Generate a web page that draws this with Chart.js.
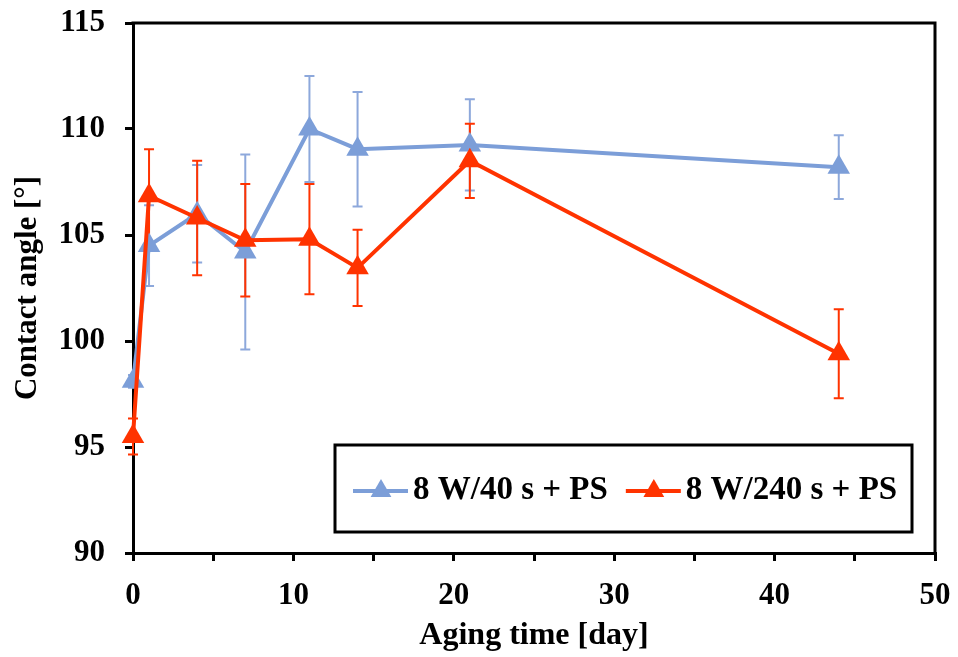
<!DOCTYPE html>
<html><head><meta charset="utf-8">
<script src="https://cdn.jsdelivr.net/npm/chart.js@4.4.1/dist/chart.umd.min.js"></script>
<style>html,body{margin:0;padding:0;background:#fff;}</style>
</head><body>
<canvas id="c" width="958" height="657"></canvas>
<script>
const days = [0, 1, 4, 7, 11, 14, 21, 44];
const blueAngle = [98.1, 104.5, 106.0, 104.2, 110.0, 109.05, 109.25, 108.2];
const blueErr   = [0.3, 1.9, 2.3, 4.6, 2.5, 2.7, 2.15, 1.5];
const redAngle  = [95.5, 106.85, 105.8, 104.75, 104.8, 103.45, 108.5, 99.4];
const redErr    = [0.85, 2.2, 2.7, 2.65, 2.6, 1.8, 1.75, 2.1];
const seriesLabels = ['8 W/40 s + PS', '8 W/240 s + PS'];
const xTitle = 'Aging time [day]';
const yTitle = 'Contact angle [\u00B0]';

const FONT = "'Liberation Serif','Times New Roman',serif";
const BLUE = '#7C9ED8', BLUE_ERR = '#8DA8DB', RED = '#FF3300';

const errorBars = {
  id: 'errorBars',
  beforeDatasetsDraw(chart) {
    const {ctx, scales: {x, y}} = chart;
    chart.data.datasets.forEach(ds => {
      ctx.save();
      ctx.strokeStyle = ds.errColor;
      ctx.lineWidth = 2;
      ds.data.forEach((p, i) => {
        const px = x.getPixelForValue(p.x);
        const t = y.getPixelForValue(p.y + ds.err[i]);
        const b = y.getPixelForValue(p.y - ds.err[i]);
        ctx.beginPath();
        ctx.moveTo(px, t); ctx.lineTo(px, b);
        ctx.moveTo(px - 5, t); ctx.lineTo(px + 5, t);
        ctx.moveTo(px - 5, b); ctx.lineTo(px + 5, b);
        ctx.stroke();
      });
      ctx.restore();
    });
  }
};

function tri(ctx, cx, cy, r, color) {
  ctx.beginPath();
  for (let k = 0; k < 3; k++) {
    const a = k * 2 * Math.PI / 3;
    const px = cx + Math.sin(a) * r, py = cy - Math.cos(a) * r;
    if (k === 0) ctx.moveTo(px, py); else ctx.lineTo(px, py);
  }
  ctx.closePath();
  ctx.fillStyle = color; ctx.fill();
}

const frameAndLegend = {
  id: 'frameAndLegend',
  afterDraw(chart) {
    const {ctx, chartArea: a} = chart;
    ctx.save();
    ctx.strokeStyle = '#000';
    ctx.lineWidth = 3;
    ctx.beginPath();
    ctx.moveTo(a.left - 1.5, a.top); ctx.lineTo(a.right, a.top); ctx.lineTo(a.right, a.bottom + 1.5);
    ctx.stroke();

    // legend box
    const bx = a.left + 202, by = a.top + 422, bw = 577, bh = 87;
    ctx.fillStyle = '#fff';
    ctx.fillRect(bx, by, bw, bh);
    ctx.strokeRect(bx, by, bw, bh);
    ctx.font = 'bold 33px ' + FONT;
    ctx.textBaseline = 'middle';
    ctx.textAlign = 'left';
    let cx = bx + 18;
    const cy = by + 46;
    chart.data.datasets.forEach(ds => {
      ctx.strokeStyle = ds.borderColor;
      ctx.lineWidth = 4;
      ctx.beginPath(); ctx.moveTo(cx, cy); ctx.lineTo(cx + 55, cy); ctx.stroke();
      tri(ctx, cx + 28, cy, 12, ds.borderColor);
      ctx.fillStyle = '#000';
      ctx.fillText(ds.label, cx + 60, cy - 1);
      cx += 60 + ctx.measureText(ds.label).width + 18;
    });
    ctx.restore();
  }
};

const mk = (vals) => days.map((d, i) => ({x: d, y: vals[i]}));

new Chart(document.getElementById('c'), {
  type: 'line',
  data: {
    datasets: [
      {label: seriesLabels[0], data: mk(blueAngle), err: blueErr, errColor: BLUE_ERR,
       borderColor: BLUE, backgroundColor: BLUE, borderWidth: 4, pointStyle: 'triangle',
       pointRadius: 13, pointHoverRadius: 13, pointBorderWidth: 0, tension: 0, order: 1, clip: false},
      {label: seriesLabels[1], data: mk(redAngle), err: redErr, errColor: RED,
       borderColor: RED, backgroundColor: RED, borderWidth: 4, pointStyle: 'triangle',
       pointRadius: 13, pointHoverRadius: 13, pointBorderWidth: 0, tension: 0, order: 0, clip: false}
    ]
  },
  options: {
    responsive: false,
    animation: false,
    devicePixelRatio: 1,
    layout: {padding: {top: 23, right: 23, left: 0, bottom: 0}},
    plugins: {legend: {display: false}, tooltip: {enabled: false}},
    scales: {
      x: {
        type: 'linear', min: 0, max: 50,
        afterFit(s) { s.height = 104; s.paddingLeft = 0; s.paddingRight = 0; },
        border: {display: true, color: '#000', width: 3},
        grid: {display: true, drawOnChartArea: false, drawTicks: true, tickLength: 8, color: '#000', lineWidth: 3},
        ticks: {stepSize: 5, color: '#000', padding: 16, maxRotation: 0,
          font: {family: FONT, size: 31, weight: 'bold'},
          callback: v => (v % 10 === 0 ? String(v) : '')},
        title: {display: true, text: xTitle, color: '#000', padding: {top: 0, bottom: 2},
          font: {family: FONT, size: 32, weight: 'bold'}}
      },
      y: {
        min: 90, max: 115,
        afterFit(s) { s.width = 133; s.paddingTop = 0; s.paddingBottom = 0; },
        border: {display: true, color: '#000', width: 3},
        grid: {display: true, drawOnChartArea: false, drawTicks: true, tickLength: 8, color: '#000', lineWidth: 3},
        ticks: {stepSize: 5, color: '#000', padding: 20,
          font: {family: FONT, size: 31, weight: 'bold'}},
        title: {display: true, text: yTitle, color: '#000', padding: {top: 9, bottom: 0},
          font: {family: FONT, size: 31, weight: 'bold'}}
      }
    }
  },
  plugins: [errorBars, frameAndLegend]
});
</script>
</body></html>
